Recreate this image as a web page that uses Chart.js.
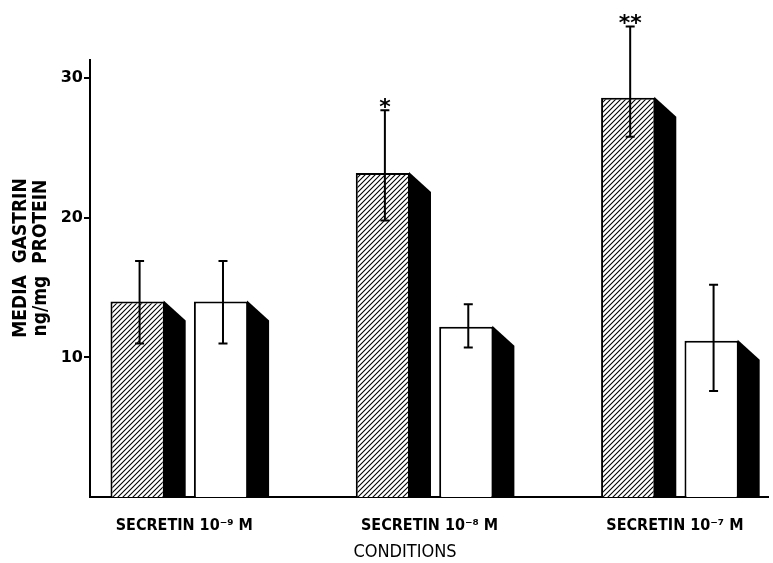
<!DOCTYPE html>
<html>
<head>
<meta charset="utf-8">
<script src="https://cdn.jsdelivr.net/npm/chart.js@4/dist/chart.umd.min.js"></script>
<style>
  html, body { margin: 0; padding: 0; background: #fff; }
  #wrap { width: 773px; height: 563px; }
</style>
</head>
<body>
<div id="wrap"><canvas id="c" width="773" height="563"></canvas></div>
<script>
const groups = ["SECRETIN 10\u207B\u2079 M", "SECRETIN 10\u207B\u2078 M", "SECRETIN 10\u207B\u2077 M"];
const hatchedVals = [14.0, 23.2, 28.6];
const hatchedHigh = [16.9, 27.7, 33.7];
const hatchedLow = [11.0, 19.8, 25.8];
const hatchedStars = ["", "*", "**"];
const whiteVals = [14.0, 12.2, 11.2];
const whiteHigh = [16.9, 13.8, 15.2];
const whiteLow = [11.0, 10.7, 7.6];
const yTicks = [10, 20, 30];
const yTitle = ["MEDIA  GASTRIN", "ng/mg  PROTEIN"];
const xTitle = "CONDITIONS";

// diagonal hatch
function hatch() {
  const p = document.createElement("canvas");
  p.width = 5; p.height = 5;
  const g = p.getContext("2d");
  g.fillStyle = "#fff";
  g.fillRect(0, 0, 5, 5);
  g.strokeStyle = "#000";
  g.lineWidth = 1.1;
  g.beginPath();
  g.moveTo(-1, 6); g.lineTo(6, -1);
  g.moveTo(-1, 1); g.lineTo(1, -1);
  g.moveTo(4, 6); g.lineTo(6, 4);
  g.stroke();
  return g.createPattern(p, "repeat");
}

const errs = [[hatchedHigh, hatchedLow], [whiteHigh, whiteLow]];

const extras = {
  id: "extras",
  afterDatasetsDraw(chart) {
    const ctx = chart.ctx;
    const y = chart.scales.y;
    ctx.save();
    chart.data.datasets.forEach((ds, di) => {
      chart.getDatasetMeta(di).data.forEach((bar, i) => {
        const right = bar.x + bar.width / 2;
        // black side
        ctx.fillStyle = "#000";
        ctx.beginPath();
        ctx.moveTo(right - 1, bar.y - 1);
        ctx.lineTo(right + 21, bar.y + 19);
        ctx.lineTo(right + 21, bar.base);
        ctx.lineTo(right - 1, bar.base);
        ctx.closePath();
        ctx.fill();
        // error bar
        const hi = y.getPixelForValue(errs[di][0][i]);
        const lo = y.getPixelForValue(errs[di][1][i]);
        const x = bar.x + 2;
        ctx.strokeStyle = "#000";
        ctx.lineWidth = 2;
        ctx.beginPath();
        ctx.moveTo(x, hi); ctx.lineTo(x, lo);
        ctx.moveTo(x - 4.5, hi); ctx.lineTo(x + 4.5, hi);
        ctx.moveTo(x - 4.5, lo); ctx.lineTo(x + 4.5, lo);
        ctx.stroke();
        if (di === 0 && hatchedStars[i]) {
          ctx.fillStyle = "#000";
          ctx.font = "bold 22px 'DejaVu Sans'";
          ctx.textAlign = "center";
          ctx.textBaseline = "alphabetic";
          ctx.fillText(hatchedStars[i], x, hi + 4);
        }
      });
    });
    // axis titles
    ctx.fillStyle = "#000";
    ctx.font = "bold 19px 'DejaVu Sans Condensed', 'DejaVu Sans'";
    ctx.textAlign = "center";
    ctx.textBaseline = "middle";
    yTitle.forEach((t, k) => {
      ctx.save();
      ctx.translate(21 + k * 20, 258);
      ctx.rotate(-Math.PI / 2);
      ctx.fillText(t, 0, 0);
      ctx.restore();
    });
    ctx.font = "18px 'DejaVu Sans Condensed', 'DejaVu Sans'";
    ctx.fillText(xTitle, 405, 552);
    ctx.restore();
  }
};

new Chart(document.getElementById("c"), {
  type: "bar",
  data: {
    datasets: [
      { data: hatchedVals.map((v, i) => ({ x: i, y: v })), backgroundColor: hatch(), borderColor: "#000", borderWidth: 2, borderSkipped: "bottom" },
      { data: whiteVals.map((v, i) => ({ x: i, y: v })), backgroundColor: "#fff", borderColor: "#000", borderWidth: 2, borderSkipped: "bottom" }
    ]
  },
  options: {
    responsive: false,
    animation: false,
    layout: { padding: { top: 60, right: 5, left: 0, bottom: 0 } },
    plugins: { legend: { display: false }, tooltip: { enabled: false } },
    datasets: { bar: { categoryPercentage: 0.68, barPercentage: 0.65 } },
    scales: {
      x: {
        type: "linear",
        offset: false,
        min: -0.364,
        max: 2.4,
        afterBuildTicks: s => { s.ticks = groups.map((g, i) => ({ value: i })); },
        afterFit: s => { s.height = 66; },
        ticks: {
          callback: v => groups[v],
          color: "#000",
          padding: 11,
          labelOffset: 5,
          maxRotation: 0,
          font: { family: "'DejaVu Sans Condensed', 'DejaVu Sans'", size: 16, weight: "bold" }
        },
        grid: { display: false },
        border: { display: true, color: "#000", width: 2 }
      },
      y: {
        min: 0,
        max: 31.3,
        afterBuildTicks: s => { s.ticks = yTicks.map(v => ({ value: v })); },
        afterFit: s => { s.width = 90; },
        ticks: {
          color: "#000",
          padding: 1,
          font: { family: "'DejaVu Sans'", size: 16, weight: "bold" }
        },
        grid: { drawOnChartArea: false, drawTicks: true, tickLength: 6, color: "#000", lineWidth: 2 },
        border: { display: true, color: "#000", width: 2 }
      }
    }
  },
  plugins: [extras]
});
</script>
</body>
</html>
